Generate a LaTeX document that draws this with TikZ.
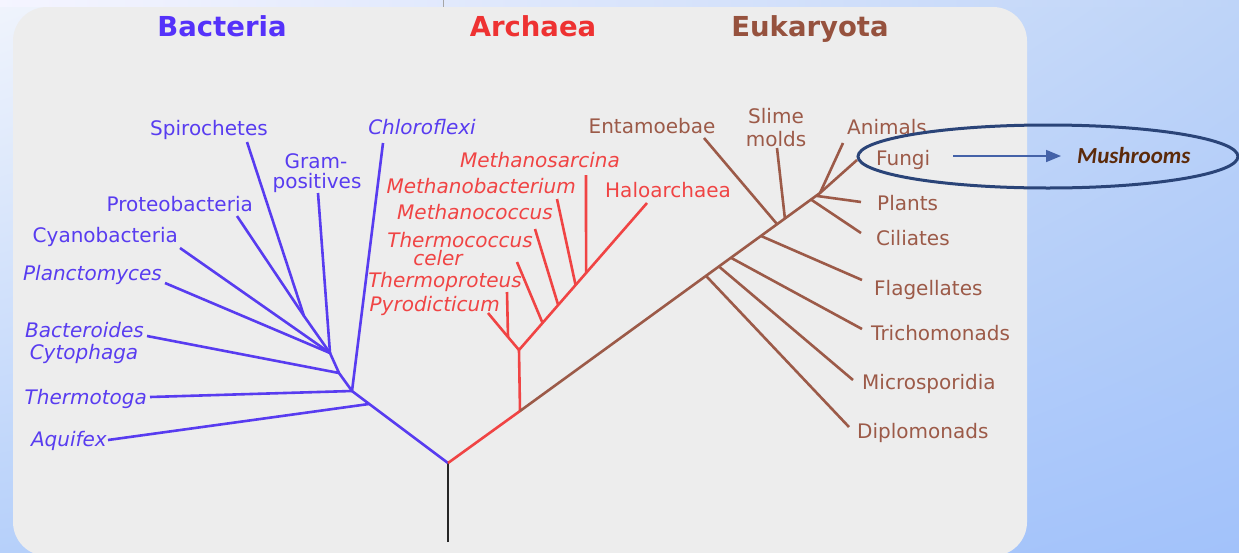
\documentclass[tikz,border=0pt]{standalone}
\usepackage{fontspec}
\setmainfont{DejaVu Sans}
\newfontfamily\carlito{Carlito}
\usetikzlibrary{shapes.geometric,arrows.meta,calc,shadings}
\definecolor{bact}{RGB}{88,60,240}
\definecolor{bactT}{RGB}{85,50,250}
\definecolor{arch}{RGB}{240,68,68}
\definecolor{archT}{RGB}{238,50,50}
\definecolor{euk}{RGB}{156,90,72}
\definecolor{eukT}{RGB}{150,82,62}
\definecolor{panelc}{RGB}{237,237,237}
\definecolor{ovalc}{RGB}{42,68,120}
\definecolor{arrc}{RGB}{68,98,168}
\definecolor{mushc}{RGB}{92,42,10}
\definecolor{bgUL}{RGB}{240,244,252}
\definecolor{bgUR}{RGB}{190,212,248}
\definecolor{bgLL}{RGB}{182,208,250}
\definecolor{bgLR}{RGB}{162,194,250}
\tikzset{
  lbl/.style={inner sep=0pt, font=\fontsize{20}{24}\selectfont},
  ilbl/.style={inner sep=0pt, font=\fontsize{20}{24}\selectfont\itshape},
  ttl/.style={inner sep=0pt, font=\fontsize{27.5}{30}\selectfont\bfseries},
  branch/.style={line width=2.6pt, line join=round},
  bline/.style={branch, draw=bact},
  rline/.style={branch, draw=arch},
  eline/.style={branch, draw=euk},
}
\begin{document}
\begin{tikzpicture}[x=1pt,y=-1pt]
\useasboundingbox (0,0) rectangle (1239,552);
% background
\shade[upper left=bgUL, upper right=bgUR, lower left=bgLL, lower right=bgLR] (0,0) rectangle (1239,552);
\shade[left color=white!96!blue, right color=bgUR] (0,0) rectangle (1239,6);
\draw[gray!70, line width=1pt] (443,0) -- (443,7);
\fill[panelc, rounded corners=34pt] (13,7) rectangle (1027,556);

% titles
\node[ttl, text=bactT, anchor=base] (tbac) at (222,36) {Bacteria};
\node[ttl, text=archT, anchor=base] (tarc) at (533,36) {Archaea};
\node[ttl, text=eukT, anchor=base] (teuk) at (810,36) {Eukaryota};

% ---------- tree coordinates ----------
\coordinate (R0) at (448,542);
\coordinate (R) at (448,463);
% bacteria
\coordinate (B1) at (352,391);
\coordinate (A1) at ($(R)!0.82!(B1)$);
\coordinate (B2) at (339,373);
\coordinate (B3) at (330,353);
\coordinate (B4) at (304,316);
\coordinate (aqE) at (108,440);
\coordinate (thE) at (150,397);
\coordinate (chE) at (383,143);
\coordinate (bcE) at (147,336);
\coordinate (plE) at (165,283);
\coordinate (cyE) at (180,248);
\coordinate (grE) at (318,193);
\coordinate (prE) at (237,216);
\coordinate (spE) at (247,142);
% archaea
\coordinate (AR) at (520,411);
\coordinate (A2) at (519,350);
\coordinate (haE) at (647,203);
\coordinate (J) at (508,337);
\coordinate (pyE) at (488,313);
\coordinate (tpE) at (507,292);
\coordinate (tcJ) at ($(A2)!0.184!(haE)$);
\coordinate (mcJ) at ($(A2)!0.306!(haE)$);
\coordinate (mbJ) at ($(A2)!0.442!(haE)$);
\coordinate (msJ) at ($(A2)!0.524!(haE)$);
\coordinate (tcE) at (517,262);
\coordinate (mcE) at (535,229);
\coordinate (mbE) at (557,199);
\coordinate (msE) at (586,175);
% eukaryota
\coordinate (E0) at (820,193);
\coordinate (dpJ) at ($(AR)!0.62!(E0)$);
\coordinate (miJ) at ($(AR)!0.663!(E0)$);
\coordinate (trJ) at ($(AR)!0.703!(E0)$);
\coordinate (flJ) at ($(AR)!0.803!(E0)$);
\coordinate (enJ) at ($(AR)!0.857!(E0)$);
\coordinate (slJ) at ($(AR)!0.883!(E0)$);
\coordinate (ciJ) at ($(AR)!0.97!(E0)$);
\coordinate (pnJ) at ($(AR)!0.987!(E0)$);
\coordinate (dpE) at (849,427);
\coordinate (miE) at (853,380);
\coordinate (trE) at (862,329);
\coordinate (flE) at (862,280);
\coordinate (enE) at (704,138);
\coordinate (slE) at (777,148);
\coordinate (ciE) at (861,233);
\coordinate (pnE) at (861,202);
\coordinate (anE) at (843,143);
\coordinate (fuE) at (857,160);

% ---------- branches ----------
\draw[branch, draw=black!85] (R0) -- (R);
% bacteria
\draw[bline] (R) -- (A1) -- (B1) -- (B2) -- (B3) -- (B4) -- (spE);
\draw[bline] (A1) -- (aqE);
\draw[bline] (B1) -- (thE);
\draw[bline] (B1) -- (chE);
\draw[bline] (B2) -- (bcE);
\draw[bline] (B3) -- (plE);
\draw[bline] (B3) -- (cyE);
\draw[bline] (B3) -- (grE);
\draw[bline] (B4) -- (prE);
% archaea
\draw[rline] (R) -- (AR) -- (A2) -- (haE);
\draw[rline] (A2) -- (J) -- (pyE);
\draw[rline] (J) -- (tpE);
\draw[rline] (tcJ) -- (tcE);
\draw[rline] (mcJ) -- (mcE);
\draw[rline] (mbJ) -- (mbE);
\draw[rline] (msJ) -- (msE);
% eukaryota
\draw[eline] (AR) -- (E0) -- (anE);
\draw[eline] (E0) -- (fuE);
\draw[eline] (dpJ) -- (dpE);
\draw[eline] (miJ) -- (miE);
\draw[eline] (trJ) -- (trE);
\draw[eline] (flJ) -- (flE);
\draw[eline] (enJ) -- (enE);
\draw[eline] (slJ) -- (slE);
\draw[eline] (ciJ) -- (ciE);
\draw[eline] (pnJ) -- (pnE);

% ---------- bacteria labels ----------
\node[lbl, text=bact, anchor=base] (spiro) at (209,135) {Spirochetes};
\node[lbl, text=bact, anchor=base] (gram1) at (316,168) {Gram-};
\node[lbl, text=bact, anchor=base] (gram2) at (317,188) {positives};
\node[lbl, text=bact, anchor=base east] (proteo) at (253,211) {Proteobacteria};
\node[lbl, text=bact, anchor=base east] (cyano) at (178,242) {Cyanobacteria};
\node[ilbl, text=bact, anchor=base east] (plancto) at (162,280) {Planctomyces};
\node[ilbl, text=bact, anchor=base east] (bactero) at (144,337) {Bacteroides};
\node[ilbl, text=bact, anchor=base] (cyto) at (84,359) {Cytophaga};
\node[ilbl, text=bact, anchor=base east] (thermot) at (147,404) {Thermotoga};
\node[ilbl, text=bact, anchor=base east] (aquif) at (107,446) {Aquifex};
\node[ilbl, text=bact, anchor=base] (chloro) at (422,134) {Chloroflexi};

% ---------- archaea labels ----------
\node[ilbl, text=arch, anchor=base east] (msarc) at (620,167) {Methanosarcina};
\node[ilbl, text=arch, anchor=base east] (mbact) at (576,193) {Methanobacterium};
\node[lbl, text=arch, anchor=base west] (halo) at (605,197) {Haloarchaea};
\node[ilbl, text=arch, anchor=base east] (mcocc) at (553,219) {Methanococcus};
\node[ilbl, text=arch, anchor=base east] (tcocc) at (533,247) {Thermococcus};
\node[ilbl, text=arch, anchor=base] (celer) at (438,265) {celer};
\node[ilbl, text=arch, anchor=base east] (tprot) at (522,287) {Thermoproteus};
\node[ilbl, text=arch, anchor=base east] (pyro) at (500,311) {Pyrodicticum};

% ---------- eukaryota labels ----------
\node[lbl, text=euk, anchor=base] (entam) at (652,133) {Entamoebae};
\node[lbl, text=euk, anchor=base] (slime1) at (776,123) {Slime};
\node[lbl, text=euk, anchor=base] (slime2) at (776,146) {molds};
\node[lbl, text=euk, anchor=base west] (anim) at (847,134) {Animals};
\node[lbl, text=euk, anchor=base west] (fungi) at (876,165) {Fungi};
\node[lbl, text=euk, anchor=base west] (plants) at (877,210) {Plants};
\node[lbl, text=euk, anchor=base west] (cili) at (876,245) {Ciliates};
\node[lbl, text=euk, anchor=base west] (flag) at (874,295) {Flagellates};
\node[lbl, text=euk, anchor=base west] (trich) at (871,340) {Trichomonads};
\node[lbl, text=euk, anchor=base west] (micro) at (862,389) {Microsporidia};
\node[lbl, text=euk, anchor=base west] (diplo) at (857,438) {Diplomonads};

% ---------- highlight ----------
\node[inner sep=0pt, anchor=base west, text=mushc, font=\carlito\fontsize{23}{26}\selectfont\bfseries\itshape] (mush) at (1077,163) {Mushrooms};
\coordinate (arS) at (953,156);
\coordinate (arT) at (1061,156);
\draw[arrc, line width=1.6pt, -{Triangle[length=15pt,width=12pt]}] (arS) -- (arT);
\node[draw=ovalc, line width=3pt, ellipse, inner sep=0pt, minimum width=380pt, minimum height=63pt] (oval) at (1048,156.5) {};
\end{tikzpicture}
\end{document}
